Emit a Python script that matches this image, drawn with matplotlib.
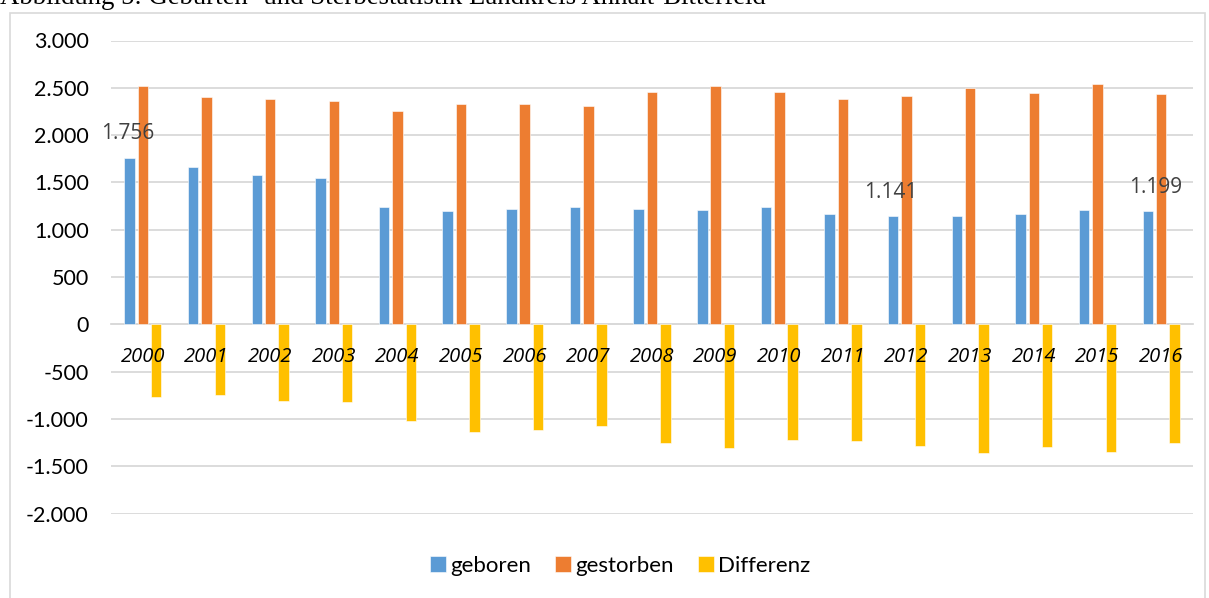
import matplotlib
matplotlib.use("Agg")
import matplotlib.pyplot as plt
import numpy as np
from matplotlib.patches import Rectangle

years = ["2000", "2001", "2002", "2003", "2004", "2005", "2006", "2007", "2008",
         "2009", "2010", "2011", "2012", "2013", "2014", "2015", "2016"]
geboren = [1756, 1666, 1578, 1546, 1243, 1194, 1215, 1243, 1215,
           1208, 1243, 1163, 1141, 1141, 1163, 1208, 1199]
gestorben = [2519, 2406, 2385, 2360, 2258, 2329, 2332, 2308, 2459,
             2519, 2455, 2385, 2413, 2494, 2445, 2540, 2434]
differenz = [-768, -751, -811, -818, -1025, -1142, -1121, -1075, -1251,
             -1311, -1223, -1237, -1286, -1364, -1297, -1347, -1251]
yticks = [-2000, -1500, -1000, -500, 0, 500, 1000, 1500, 2000, 2500, 3000]
ytick_labels = ["-2.000", "-1.500", "-1.000", "-500", "0", "500", "1.000",
                "1.500", "2.000", "2.500", "3.000"]
# labelled points: (category index, value, text)
point_labels = [(0, 1756, "1.756"), (12, 1141, "1.141"), (16, 1199, "1.199")]

c_blue, c_orange, c_yellow = "#5B9BD5", "#ED7D31", "#FFC000"

W, H = 1209, 598
fig = plt.figure(figsize=(W / 100, H / 100), dpi=100)

# chart frame
fig.patches.append(Rectangle((10 / W, -0.05), (1205 - 10) / W, 1 - 12.5 / H + 0.05,
                             transform=fig.transFigure, fill=False,
                             edgecolor="#d9d9d9", linewidth=1.2))
# caption (cut off at top, as in the source)
fig.text(0.0, 1 - 3.5 / H, "Abbildung 5: Geburten- und Sterbestatistik Landkreis Anhalt-Bitterfeld",
         family="Liberation Serif", fontsize=19.3, va="baseline", ha="left", color="black")

left, right = 111 / W, 1193 / W
bottom, top = 1 - 513.5 / H, 1 - 40.5 / H
ax = fig.add_axes([left, bottom, right - left, top - bottom])

x = np.arange(len(years))
bw = 0.165
off = 0.21
ax.bar(x - off, geboren, bw, color=c_blue, label="geboren", zorder=2,
       edgecolor="white", linewidth=0.4)
ax.bar(x, gestorben, bw, color=c_orange, label="gestorben", zorder=2,
       edgecolor="white", linewidth=0.4)
ax.bar(x + off, differenz, bw, color=c_yellow, label="Differenz", zorder=2,
       edgecolor="white", linewidth=0.4)

ax.set_xlim(-0.5, len(years) - 0.5)
ax.set_ylim(-2000, 3000)
ax.set_yticks(yticks)
ax.set_yticklabels(ytick_labels, family="Lato", fontsize=15.5, color="black")
ax.yaxis.grid(True, color="#d9d9d9", linewidth=1.3)
ax.yaxis.set_zorder(0.5)
ax.xaxis.set_zorder(3)

for s in ["top", "right", "left"]:
    ax.spines[s].set_visible(False)
ax.spines["bottom"].set_position(("data", 0))
ax.spines["bottom"].set_color("#d9d9d9")
ax.spines["bottom"].set_linewidth(1.3)
ax.spines["bottom"].set_zorder(1)

ax.set_xticks(x)
ax.set_xticklabels(years, family="Open Sans", style="italic", fontsize=14.5, color="black")
ax.tick_params(axis="x", length=0, pad=16)
ax.tick_params(axis="y", length=0, pad=16)

# data labels (positions dragged in the original)
label_pos = {0: (-0.24, 2022), 12: (11.75, 1390), 16: (15.92, 1445)}
for i, v, t in point_labels:
    px, py = label_pos[i]
    ax.text(px, py, t, ha="center", va="center", family="Open Sans",
            fontsize=15, color="#404040", zorder=6)

fig.legend(loc="center", bbox_to_anchor=(0.513, 1 - 566 / H), ncol=3, frameon=False,
           prop={"family": "Lato", "size": 16}, handlelength=0.7, handleheight=0.7,
           handletextpad=0.2, columnspacing=1.1)

fig.savefig("out.png", dpi=100)
